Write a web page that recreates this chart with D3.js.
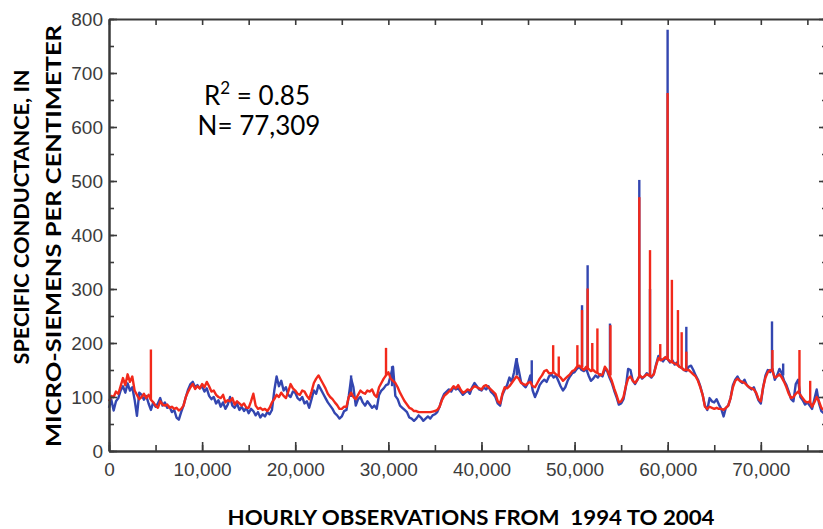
<!DOCTYPE html>
<html>
<head>
<meta charset="utf-8">
<script src="https://cdn.jsdelivr.net/npm/d3@7"></script>
<style>
  body { margin: 0; background: #fff; }
  svg { display: block; }
</style>
</head>
<body>
<div id="chart"></div>
<script>
// hourly record every 250 hours (one row = 5,000 hours)
const step = 250;
const blueValues = [
  80, 95, 75, 92, 98, 112, 120, 108, 125, 112, 118, 95, 65, 108, 104, 95, 102, 88, 76, 90,
  82, 88, 98, 84, 90, 80, 82, 72, 76, 62, 58, 72, 84, 100, 114, 124, 128, 118, 122, 116,
  120, 110, 116, 102, 96, 100, 88, 94, 82, 90, 78, 86, 100, 84, 80, 88, 76, 82, 74, 80,
  70, 78, 74, 66, 72, 62, 68, 64, 72, 68, 76, 112, 138, 120, 130, 112, 118, 104, 100, 110,
  108, 98, 94, 100, 88, 92, 80, 96, 112, 106, 122, 114, 106, 98, 90, 84, 78, 70, 66, 60,
  64, 74, 76, 102, 134, 118, 84, 96, 100, 90, 84, 92, 86, 80, 84, 78, 104, 112, 116, 122,
  124, 140, 156, 102, 96, 84, 80, 76, 72, 62, 60, 56, 60, 66, 62, 56, 60, 64, 60, 66,
  68, 72, 82, 96, 106, 110, 114, 110, 118, 114, 116, 110, 104, 108, 112, 106, 118, 126, 120, 114,
  112, 118, 114, 120, 110, 106, 100, 88, 84, 104, 114, 122, 136, 128, 146, 170, 150, 128, 122, 118,
  126, 140, 112, 100, 110, 122, 128, 132, 128, 138, 142, 136, 140, 130, 120, 112, 118, 130, 138, 144,
  146, 152, 156, 150, 148, 152, 140, 130, 134, 140, 136, 142, 138, 152, 148, 136, 126, 112, 100, 86,
  88, 96, 118, 152, 150, 130, 124, 132, 140, 134, 138, 144, 140, 136, 142, 160, 176, 170, 166, 172,
  170, 164, 168, 160, 164, 156, 154, 150, 148, 156, 158, 150, 140, 132, 120, 104, 84, 76, 98, 92,
  90, 96, 86, 78, 64, 80, 84, 98, 122, 132, 138, 130, 126, 132, 122, 118, 114, 118, 106, 94,
  88, 118, 140, 150, 146, 152, 132, 140, 152, 144, 130, 122, 110, 96, 92, 124, 132, 100, 94, 86,
  90, 84, 78, 96, 114, 88, 74, 70
];
const redValues = [
  92, 102, 100, 110, 106, 120, 135, 122, 142, 128, 138, 112, 104, 96, 100, 106, 98, 104, 95, 90,
  84, 80, 92, 86, 84, 86, 80, 82, 78, 80, 75, 78, 84, 100, 110, 118, 124, 115, 120, 116,
  124, 118, 128, 120, 110, 112, 104, 100, 98, 104, 90, 94, 92, 98, 86, 92, 88, 84, 88, 80,
  80, 92, 106, 84, 78, 80, 76, 78, 74, 80, 90, 96, 104, 100, 108, 102, 98, 110, 124, 116,
  112, 106, 104, 112, 110, 102, 96, 110, 126, 134, 140, 132, 124, 116, 106, 100, 96, 90, 85, 78,
  78, 82, 82, 100, 108, 100, 96, 104, 112, 108, 106, 112, 110, 114, 104, 100, 118, 126, 134, 140,
  146, 134, 130, 126, 118, 108, 100, 92, 86, 80, 78, 74, 74, 72, 72, 72, 72, 72, 72, 73,
  74, 76, 82, 94, 102, 106, 110, 114, 120, 116, 122, 114, 108, 110, 114, 112, 116, 120, 118, 116,
  114, 120, 122, 118, 114, 110, 106, 92, 88, 106, 118, 116, 120, 126, 132, 138, 134, 126, 124, 122,
  126, 128, 120, 118, 126, 134, 140, 148, 150, 144, 144, 146, 142, 140, 136, 130, 134, 138, 142, 148,
  150, 156, 158, 154, 150, 156, 152, 148, 150, 146, 144, 140, 142, 156, 150, 140, 130, 116, 104, 90,
  92, 100, 120, 134, 138, 130, 126, 132, 140, 136, 138, 142, 140, 138, 142, 158, 172, 168, 170, 174,
  170, 166, 164, 162, 160, 156, 154, 150, 150, 150, 146, 142, 138, 130, 118, 104, 82, 78, 82, 80,
  78, 80, 78, 78, 76, 80, 84, 98, 118, 130, 134, 130, 128, 126, 122, 118, 116, 114, 108, 96,
  92, 118, 136, 146, 150, 148, 136, 138, 142, 136, 128, 118, 106, 98, 100, 106, 110, 104, 98, 92,
  90, 92, 82, 90, 100, 92, 80, 76
];
// short events: [hour, foot, peak]
const blueSpikes = [
  [26000, 100, 140], [30400, 120, 157], [43800, 140, 172], [45400, 125, 168],
  [50800, 155, 270], [51400, 150, 344], [53800, 140, 236], [56950, 140, 502],
  [58100, 140, 300], [59990, 170, 780], [62000, 150, 230], [71200, 150, 240],
  [72400, 140, 162]
];
const redSpikes = [
  [4500, 95, 188], [29750, 139, 191], [47700, 144, 196], [48300, 140, 175],
  [50300, 155, 196], [50800, 155, 261], [51400, 150, 301], [51900, 150, 200],
  [52450, 145, 227], [53850, 140, 233], [56950, 140, 470], [58100, 140, 372],
  [59200, 172, 198], [59990, 170, 663], [60450, 165, 317], [61100, 160, 261],
  [61500, 155, 220], [62000, 150, 184], [71250, 150, 187], [74150, 110, 187],
  [75300, 90, 130]
];
const yTicks = [0, 100, 200, 300, 400, 500, 600, 700, 800];
const xTicks = [0, 10000, 20000, 30000, 40000, 50000, 60000, 70000];

const colors = { blue: "#3346b0", red: "#f2291b", axis: "#3a3a3a" };
const W = 823, H = 529;

const svg = d3.select("#chart").append("svg")
  .attr("width", W)
  .attr("height", H);

const x = d3.scaleLinear().domain([0, 77000]).range([109, 826]);
const y = d3.scaleLinear().domain([0, 800]).range([451, 19]);

const minorX = d3.range(0, 77001, 5000);
const minorY = d3.range(0, 801, 50);

// series lines
const line = d3.line()
  .x((d, i) => x(i * step))
  .y((d) => y(d));

const drawSeries = (values, spikes, color) => {
  svg.append("path")
    .datum(values)
    .attr("fill", "none")
    .attr("stroke", color)
    .attr("stroke-width", 2.4)
    .attr("stroke-linejoin", "round")
    .attr("d", line);
  svg.selectAll(null)
    .data(spikes)
    .enter()
    .append("line")
    .attr("x1", (d) => x(d[0]))
    .attr("x2", (d) => x(d[0]))
    .attr("y1", (d) => y(d[1]))
    .attr("y2", (d) => y(d[2]))
    .attr("stroke", color)
    .attr("stroke-width", 2.4);
};
drawSeries(blueValues, blueSpikes, colors.blue);
drawSeries(redValues, redSpikes, colors.red);

// axes
const styleAxis = (g) => {
  g.selectAll("path, line").attr("stroke", colors.axis);
  g.select(".domain").attr("stroke-width", 2);
  g.selectAll(".tick line").attr("stroke-width", 1.6);
  g.selectAll("text")
    .attr("fill", "#3c3c3c")
    .style("font-family", "'Liberation Sans Narrow', 'Arial Narrow', sans-serif")
    .style("font-size", "19px");
};

svg.append("g")
  .attr("transform", `translate(${x(0)},0)`)
  .call(d3.axisLeft(y).tickValues(minorY).tickSize(-5).tickSizeOuter(0).tickFormat(""))
  .call(styleAxis);
svg.append("g")
  .attr("transform", `translate(${x(0)},0)`)
  .call(d3.axisLeft(y).tickValues(yTicks).tickSize(-8).tickSizeOuter(0).tickPadding(6))
  .call(styleAxis);

svg.append("g")
  .attr("transform", `translate(${x(77000)},0)`)
  .call(d3.axisRight(y).tickValues(minorY).tickSize(-4).tickSizeOuter(0).tickFormat(""))
  .call(styleAxis);
svg.append("g")
  .attr("transform", `translate(${x(77000)},0)`)
  .call(d3.axisRight(y).tickValues(yTicks).tickSize(-7).tickSizeOuter(0).tickFormat(""))
  .call(styleAxis);

svg.append("g")
  .attr("transform", `translate(0,${y(800)})`)
  .call(d3.axisTop(x).tickValues(minorX).tickSize(-6).tickSizeOuter(0).tickFormat(""))
  .call(styleAxis);

svg.append("g")
  .attr("transform", `translate(0,${y(0)})`)
  .call(d3.axisBottom(x).tickValues(minorX).tickSize(-6).tickSizeOuter(0).tickFormat(""))
  .call(styleAxis);
svg.append("g")
  .attr("transform", `translate(0,${y(0)})`)
  .call(d3.axisBottom(x).tickValues(xTicks).tickSize(-9).tickSizeOuter(0).tickPadding(12).tickFormat(d3.format(",")))
  .call(styleAxis);

// titles
const titleFont = "Lato, 'Open Sans', sans-serif";
svg.append("text")
  .attr("transform", "translate(29,217) rotate(-90)")
  .attr("text-anchor", "middle")
  .attr("textLength", 295)
  .attr("lengthAdjust", "spacingAndGlyphs")
  .style("font-family", titleFont)
  .style("font-weight", "bold")
  .style("font-size", "21px")
  .text("SPECIFIC CONDUCTANCE, IN");
svg.append("text")
  .attr("transform", "translate(61,236) rotate(-90)")
  .attr("text-anchor", "middle")
  .attr("textLength", 422)
  .attr("lengthAdjust", "spacingAndGlyphs")
  .style("font-family", titleFont)
  .style("font-weight", "bold")
  .style("font-size", "21px")
  .text("MICRO-SIEMENS PER CENTIMETER");

svg.append("text")
  .attr("x", 471)
  .attr("y", 525)
  .attr("text-anchor", "middle")
  .attr("textLength", 487)
  .attr("lengthAdjust", "spacingAndGlyphs")
  .style("white-space", "pre")
  .style("font-family", titleFont)
  .style("font-weight", "bold")
  .style("font-size", "21px")
  .text("HOURLY OBSERVATIONS FROM  1994 TO 2004");

// fit statistics
const stat = svg.append("text")
  .attr("x", 257)
  .attr("y", 105)
  .attr("text-anchor", "middle")
  .style("font-family", titleFont)
  .style("font-size", "26px");
stat.append("tspan").text("R");
stat.append("tspan").attr("dy", -11).style("font-size", "17px").text("2");
stat.append("tspan").attr("dy", 11).text(" = 0.85");

svg.append("text")
  .attr("x", 259)
  .attr("y", 135)
  .attr("text-anchor", "middle")
  .style("font-family", titleFont)
  .style("font-size", "26px")
  .text("N= 77,309");
</script>
</body>
</html>
